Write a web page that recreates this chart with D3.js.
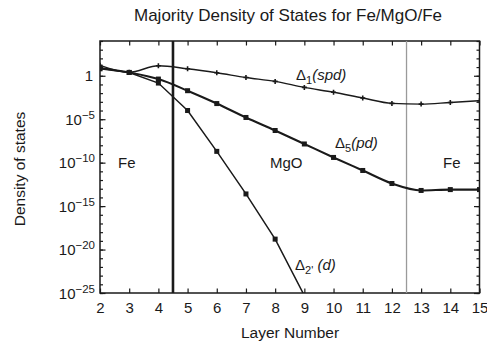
<!DOCTYPE html>
<html>
<head>
<meta charset="utf-8">
<script src="https://cdn.jsdelivr.net/npm/d3@7"></script>
<style>
  html, body { margin: 0; padding: 0; background: #fff; }
  svg { display: block; font-family: "Liberation Sans", Arial, Helvetica, sans-serif; }
</style>
</head>
<body>
<svg id="chart" width="487" height="345"></svg>
<script>
// Layer index along the Fe/MgO/Fe stack
const layers = [2, 3, 4, 5, 6, 7, 8, 9, 10, 11, 12, 13, 14, 15];
// Majority density of states per symmetry channel, stored as log10 values
const delta1Log  = [1.2, 0.4, 1.15, 0.8, 0.34, -0.2, -0.65, -1.34, -1.9, -2.56, -3.18, -3.26, -3.07, -2.87];
const delta5Log  = [0.9, 0.38, -0.38, -1.72, -3.2, -4.8, -6.3, -7.85, -9.4, -10.9, -12.4, -13.2, -13.1, -13.1];
const delta2Log  = [0.8, 0.38, -0.84, -4.0, -8.7, -13.6, -18.8, -25.3];
// Interface positions
const interfaces = [4.5, 12.5];
const xTicks = [2, 3, 4, 5, 6, 7, 8, 9, 10, 11, 12, 13, 14, 15];
const yMajorExp = [0, -5, -10, -15, -20, -25];
const yMinorExp = d3.range(-25, 5);

const svg = d3.select("#chart");
const pLeft = 100, pRight = 479.5, pTop = 41, pBottom = 293;

const x = d3.scaleLinear().domain([2, 15]).range([pLeft, pRight]);
const y = d3.scaleLog().domain([1e-25, 1e4]).range([pBottom, pTop]);

const ink = "#1a1a1a";

svg.append("defs").append("clipPath").attr("id", "plotclip")
  .append("rect").attr("x", pLeft).attr("y", pTop)
  .attr("width", pRight - pLeft).attr("height", pBottom - pTop);

// Title
svg.append("text").attr("x", 288).attr("y", 21).attr("text-anchor", "middle")
  .attr("font-size", 17).attr("fill", ink)
  .text("Majority Density of States for Fe/MgO/Fe");

// Axes with inward ticks on all four sides
const bottomAxis = d3.axisBottom(x).tickValues(xTicks).tickSize(-4.5).tickPadding(9).tickFormat(d3.format("d"));
const topAxis = d3.axisTop(x).tickValues(xTicks).tickSize(-4.5).tickFormat("");
const minorVals = yMinorExp.map(e => Math.pow(10, e));
const majorVals = yMajorExp.map(e => Math.pow(10, e));
const leftMinor = d3.axisLeft(y).tickValues(minorVals).tickSize(-3).tickFormat("");
const rightMinor = d3.axisRight(y).tickValues(minorVals).tickSize(-3).tickFormat("");
const leftMajor = d3.axisLeft(y).tickValues(majorVals).tickSize(-5.5).tickFormat("");
const rightMajor = d3.axisRight(y).tickValues(majorVals).tickSize(-5.5).tickFormat("");

function styleAxis(g) {
  g.attr("font-family", null);
  g.select(".domain").remove();
  g.selectAll(".tick line").attr("stroke", ink).attr("stroke-width", 1.2);
  g.selectAll(".tick text").attr("fill", ink).attr("font-size", 15);
}

svg.append("g").attr("transform", `translate(0,${pBottom})`).call(bottomAxis).call(styleAxis);
svg.append("g").attr("transform", `translate(0,${pTop})`).call(topAxis).call(styleAxis);
svg.append("g").attr("transform", `translate(${pLeft},0)`).call(leftMinor).call(styleAxis);
svg.append("g").attr("transform", `translate(${pRight},0)`).call(rightMinor).call(styleAxis);
svg.append("g").attr("transform", `translate(${pLeft},0)`).call(leftMajor).call(styleAxis);
svg.append("g").attr("transform", `translate(${pRight},0)`).call(rightMajor).call(styleAxis);

// Y tick labels as powers of ten
const yLab = svg.append("g");
yMajorExp.forEach(e => {
  const t = yLab.append("text").attr("y", y(Math.pow(10, e)) + 5.5)
    .attr("font-size", 15).attr("fill", ink).attr("text-anchor", "end");
  if (e === 0) {
    t.attr("x", 93).text("1");
  } else {
    t.attr("x", 95);
    t.append("tspan").text("10");
    t.append("tspan").attr("dy", -6).attr("font-size", 11.5).text("\u2212" + Math.abs(e));
  }
});

// Frame
svg.append("rect").attr("x", pLeft).attr("y", pTop)
  .attr("width", pRight - pLeft).attr("height", pBottom - pTop)
  .attr("fill", "none").attr("stroke", ink).attr("stroke-width", 1.5);

// Interface markers: Fe/MgO (heavy) and MgO/Fe (light grey)
svg.append("line").attr("x1", x(interfaces[0])).attr("x2", x(interfaces[0]))
  .attr("y1", pTop).attr("y2", pBottom).attr("stroke", ink).attr("stroke-width", 2.6);
svg.append("line").attr("x1", x(interfaces[1])).attr("x2", x(interfaces[1]))
  .attr("y1", pTop).attr("y2", pBottom).attr("stroke", "#9a9a9a").attr("stroke-width", 1.3);

// Curves
const plot = svg.append("g").attr("clip-path", "url(#plotclip)");
const toPts = arr => arr.map((v, i) => [layers[i], Math.pow(10, v)]);
const lineSmooth = d3.line().x(d => x(d[0])).y(d => y(d[1])).curve(d3.curveMonotoneX);
const lineStraight = d3.line().x(d => x(d[0])).y(d => y(d[1]));

const d1 = toPts(delta1Log), d5 = toPts(delta5Log), d2 = toPts(delta2Log);

plot.append("path").datum(d1).attr("d", lineSmooth)
  .attr("fill", "none").attr("stroke", ink).attr("stroke-width", 1.4);
plot.append("path").datum(d5).attr("d", lineSmooth)
  .attr("fill", "none").attr("stroke", ink).attr("stroke-width", 2.1);
plot.append("path").datum(d2).attr("d", lineStraight)
  .attr("fill", "none").attr("stroke", ink).attr("stroke-width", 1.5);

// Markers: small crosses on Δ1, filled squares on Δ5 and Δ2'
plot.selectAll(".m1").data(d1).enter().append("path")
  .attr("d", d => `M${x(d[0]) - 2.5},${y(d[1])}h5M${x(d[0])},${y(d[1]) - 2.5}v5`)
  .attr("stroke", ink).attr("stroke-width", 1.6);
plot.selectAll(".m5").data(d5).enter().append("rect")
  .attr("x", d => x(d[0]) - 2.5).attr("y", d => y(d[1]) - 2.5)
  .attr("width", 5).attr("height", 5).attr("fill", ink);
plot.selectAll(".m2").data(d2).enter().append("rect")
  .attr("x", d => x(d[0]) - 2.5).attr("y", d => y(d[1]) - 2.5)
  .attr("width", 5).attr("height", 5).attr("fill", ink);

// Curve labels
function deltaLabel(px, py, sub, rest) {
  const t = svg.append("text").attr("x", px).attr("y", py).attr("font-size", 15).attr("fill", ink);
  t.append("tspan").text("\u0394");
  t.append("tspan").attr("dy", 4).attr("font-size", 11).text(sub);
  t.append("tspan").attr("dy", -4).attr("font-style", "italic").text(rest);
}
deltaLabel(296, 80, "1", "(spd)");
deltaLabel(335, 148, "5", "(pd)");
deltaLabel(295, 270, "2'", " (d)");

// Region labels
const regions = [["Fe", 118, 168], ["MgO", 270, 168], ["Fe", 443, 168]];
regions.forEach(r => svg.append("text").attr("x", r[1]).attr("y", r[2])
  .attr("font-size", 15).attr("fill", ink).text(r[0]));

// Axis titles
svg.append("text").attr("x", 290).attr("y", 338).attr("text-anchor", "middle")
  .attr("font-size", 15.5).attr("fill", ink).text("Layer Number");
svg.append("text").attr("transform", "translate(25,169) rotate(-90)")
  .attr("text-anchor", "middle").attr("font-size", 15.5).attr("fill", ink)
  .text("Density of states");
</script>
</body>
</html>
